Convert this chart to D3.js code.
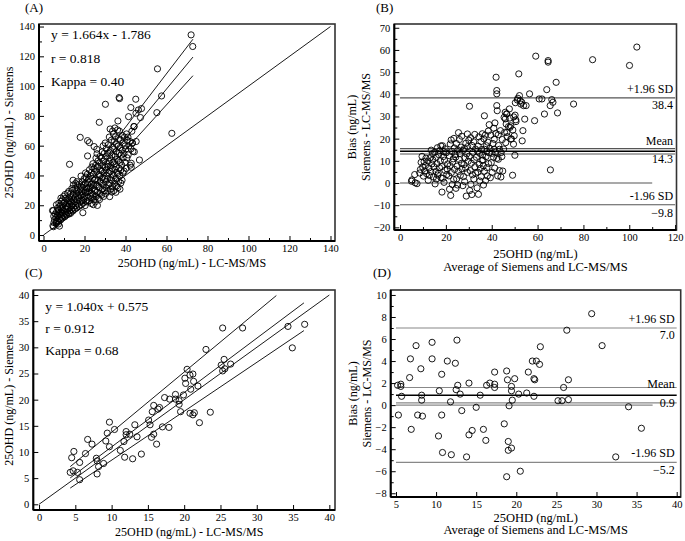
<!DOCTYPE html>
<html lang="en">
<head>
<meta charset="UTF-8" />
<script src="https://d3js.org/d3.v7.min.js"></script>
<title>25OHD Siemens vs LC-MS/MS</title>
<style>
body { margin: 0; background: #fff; }
text { font-family: "Liberation Serif", "Times New Roman", serif; fill: #000; }
</style>
</head>
<body>
<script type="text/javascript">
// ---- (A) Siemens vs LC-MS/MS, all samples: [LC-MS/MS, Siemens]
var aPoints = [
[72.0,134.4],[72.8,126.6],[55.6,111.6],[57.6,93.4],[36.9,92.3],[37.1,91.6],[45.0,91.2],[30.2,87.8],[47.8,84.9],[42.6,85.6],
[46.3,84.0],[41.5,79.5],[47.3,78.9],[45.1,81.8],[27.2,75.7],[36.3,76.6],[55.3,82.2],[44.2,72.8],[62.6,68.3],[17.9,65.6],
[46.8,50.4],[12.7,47.5],[42.8,48.2],[42.8,45.5],[43.6,56.2],[43.3,61.6],[21.5,63.4],[22.4,62.1],[24.7,59.4],[26.0,57.6],
[21.5,53.1],[19.2,15.0],[4.4,16.4],[4.9,5.6],[6.2,8.3],[7.3,7.4],[7.8,6.0],
[4.6,6.2],[5.1,8.4],[5.4,10.3],[5.0,12.6],[5.7,14.1],[4.8,16.4],
[6.2,7.6],[6.5,9.8],[6.1,11.7],[6.8,13.2],[6.4,15.5],[6.9,18.1],[6.3,20.3],
[7.3,9.1],[7.6,10.8],[7.2,12.9],[7.8,14.6],[7.4,16.8],[7.9,19.2],[7.5,21.4],
[8.4,10.2],[8.8,11.9],[8.2,13.6],[8.6,15.3],[8.9,17.4],[8.3,19.9],[8.7,22.6],[8.5,24.8],
[9.3,11.4],[9.7,13.1],[9.1,14.8],[9.6,16.6],[9.4,18.5],[9.9,21.2],[9.2,23.7],[9.8,25.9],
[10.4,12.3],[10.8,13.9],[10.2,15.6],[10.6,17.7],[10.9,19.4],[10.3,22.1],[10.7,24.6],[10.5,27.2],
[11.3,13.5],[11.7,15.2],[11.1,17.3],[11.6,19.1],[11.9,21.5],[11.4,23.8],[11.8,28.1],
[12.4,14.1],[12.8,16.3],[12.2,18.4],[12.7,20.6],[12.5,23.2],[12.9,25.7],[12.3,29.3],
[13.2,14.6],[13.6,17.2],[13.9,19.5],[13.4,22.4],[13.7,24.9],[13.3,27.8],[13.8,31.2],
[14.3,16.1],[14.7,18.3],[14.1,20.8],[14.8,23.6],[14.5,26.9],[14.2,30.1],[14.6,33.7],[14.4,36.8],
[15.3,17.4],[15.8,19.8],[15.1,22.2],[15.6,25.1],[15.9,27.9],[15.4,31.3],[15.7,34.6],
[16.2,18.2],[16.7,21.1],[16.4,23.7],[16.9,26.6],[16.1,29.8],[16.6,32.9],[16.3,35.8],
[17.3,19.3],[17.8,22.4],[17.1,25.2],[17.6,28.3],[17.9,31.1],[17.4,34.2],
[18.4,20.1],[18.8,23.3],[18.2,26.4],[18.7,29.2],[18.5,32.4],[18.9,35.7],[18.3,39.6],
[19.3,21.4],[19.7,24.2],[19.1,27.1],[19.6,30.3],[19.4,33.5],[19.8,37.8],
[20.3,19.8],[20.8,22.9],[20.2,25.8],[20.6,28.7],[20.9,31.6],[20.4,34.8],[20.7,38.9],[20.5,41.7],
[21.3,22.2],[21.7,25.3],[21.2,28.4],[21.8,31.2],[21.5,34.3],[21.9,37.4],[21.4,40.8],
[22.3,23.1],[22.7,26.2],[22.2,29.5],[22.8,32.3],[22.5,35.6],[22.9,39.7],[22.4,43.8],
[23.3,21.2],[23.7,24.8],[23.2,28.1],[23.8,31.4],[23.5,34.2],[23.9,37.9],[23.4,42.1],[23.6,45.7],
[24.3,20.4],[24.7,23.9],[24.2,27.3],[24.8,30.2],[24.5,33.4],[24.9,36.8],[24.4,40.7],[24.6,44.6],[24.1,47.9],
[25.3,22.3],[25.7,25.8],[25.2,29.6],[25.8,33.7],[25.5,37.9],[25.9,42.6],[25.4,46.8],[25.6,51.7],
[26.3,19.9],[26.7,24.7],[26.2,28.9],[26.8,32.6],[26.5,36.7],[26.9,40.8],[26.4,45.9],[26.6,49.8],[26.1,54.6],
[27.3,23.8],[27.7,27.9],[27.2,31.8],[27.8,35.9],[27.5,39.6],[27.9,43.7],[27.4,48.6],[27.6,52.8],
[28.3,26.7],[28.7,30.8],[28.2,34.7],[28.8,38.6],[28.5,42.9],[28.9,46.7],[28.4,51.6],[28.6,55.8],
[29.3,25.9],[29.7,29.8],[29.2,33.6],[29.8,37.7],[29.5,41.8],[29.9,45.6],[29.4,49.7],[29.6,54.8],[29.1,59.9],
[30.3,27.8],[30.7,31.7],[30.2,35.8],[30.8,39.9],[30.5,43.6],[30.9,47.8],[30.4,52.7],[30.6,57.9],[30.1,61.8],
[31.3,29.7],[31.7,33.8],[31.2,37.6],[31.8,41.7],[31.5,45.9],[31.9,49.6],[31.4,54.9],[31.6,60.7],
[32.3,25.8],[32.7,30.9],[32.2,34.8],[32.8,38.7],[32.5,42.8],[32.9,46.9],[32.4,51.8],[32.6,56.7],[32.1,65.8],[32.5,71.2],
[33.3,28.9],[33.7,32.8],[33.2,36.9],[33.8,40.8],[33.5,44.7],[33.9,48.9],[33.4,53.8],[33.6,58.9],[33.1,63.7],[33.7,69.8],
[34.3,29.8],[34.7,34.7],[34.2,39.8],[34.8,43.9],[34.5,47.8],[34.9,52.9],[34.4,57.8],[34.6,62.9],[34.1,67.8],[34.8,71.9],
[35.3,28.7],[35.7,32.9],[35.2,37.8],[35.8,41.9],[35.5,45.8],[35.9,50.8],[35.4,55.9],[35.6,60.8],[35.1,65.9],
[36.3,31.8],[36.7,35.9],[36.2,40.9],[36.8,44.8],[36.5,49.9],[36.9,54.8],[36.4,59.7],[36.6,64.8],[36.1,70.6],
[37.3,30.8],[37.7,34.9],[37.2,39.7],[37.8,43.8],[37.5,48.9],[37.9,53.7],[37.4,58.8],[37.6,63.9],[37.1,69.7],
[38.3,36.8],[38.7,41.8],[38.2,46.9],[38.8,51.8],[38.5,56.9],[38.9,61.8],[38.4,66.9],
[39.3,42.9],[39.7,48.8],[39.2,54.7],[39.8,59.8],[39.5,65.7],
[40.3,44.8],[40.7,51.9],[40.2,57.8],[40.8,63.7],[40.5,67.9],
[41.3,53.8],[41.7,59.9],[41.2,65.8],
[42.3,46.9],[42.7,57.9],[42.2,62.8],
[43.4,61.9],[43.1,69.7],[44.3,55.9],[44.1,72.9],[45.2,62.8]
];
var aIdentity = [[0,0],[140,140]];
var aFit   = [[5,6.5],[72.9,119.5]];
var aUpper = [[5,9.5],[72.9,131.5]];
var aLower = [[5,4.0],[72.9,107.0]];
var aText = ["y = 1.664x - 1.786", "r = 0.818", "Kappa = 0.40"];

// ---- (B) Bland-Altman, all samples: [average, bias]
var bPoints = [
[103.3,61.3],[100.1,53.0],[84.0,55.6],[75.7,35.6],[68.1,45.4],[68.7,31.6],[59.2,57.2],[64.6,54.5],[64.6,55.2],[64.0,42.1],
[60.7,37.9],[61.9,37.9],[66.2,37.6],[66.7,36.4],[63.0,31.1],[58.7,28.1],[65.5,34.9],[65.6,5.9],[56.5,40.2],[55.0,34.9],
[51.8,49.2],[52.1,39.4],[52.4,37.1],[53.1,36.4],[51.2,37.4],[53.9,34.9],[52.7,35.6],[54.4,28.8],[53.6,23.6],[53.3,19.0],
[49.8,21.3],[50.1,12.5],[49.1,3.5],[41.9,47.7],[42.2,41.7],[42.2,40.2],[42.2,34.9],[42.4,32.6],[30.3,34.6],[36.8,30.3],
[41.0,15.2],[43.4,15.2],[42.9,10.7],[44.4,11.9],[44.0,2.7],[44.8,5.4],[45.9,31.9],[46.6,31.1],[45.4,29.6],[46.6,22.8],
[48.0,25.1],[48.3,19.8],[49.5,17.5],[50.5,28.5],[50.2,30.6],
[5.2,1.4],[5.0,0.8],[6.6,0.1],[7.4,-0.3],[6.4,3.8],[8.6,4.5],[9.2,9.3],[8.9,6.1],
[10.2,3.1],[10.8,5.4],[9.9,7.2],[10.5,9.6],[11.3,11.2],[9.6,12.0],[11.6,4.2],[11.1,7.9],
[12.3,1.2],[12.8,3.4],[13.4,5.1],[12.6,6.8],[13.9,8.6],[12.2,9.9],[13.1,11.4],[14.2,13.2],[13.6,14.8],[14.6,2.7],[14.8,7.3],[14.3,10.4],
[15.3,-0.4],[15.9,1.8],[16.4,3.6],[15.6,5.2],[17.2,6.9],[16.1,8.7],[17.6,10.1],[15.8,11.6],[16.9,12.8],[17.4,14.6],[16.3,15.9],[17.8,16.7],[15.1,13.9],[16.7,4.4],[17.9,2.3],
[18.3,-4.1],[19.2,0.3],[18.7,2.1],[20.4,3.8],[19.6,5.7],[18.2,7.4],[20.8,8.6],[19.4,10.3],[18.9,11.9],[20.1,13.6],[19.7,15.4],[18.5,16.8],[20.6,6.3],[19.0,14.1],
[22.1,-5.6],[21.6,-2.8],[22.8,-0.7],[23.4,1.6],[21.3,3.2],[22.4,4.7],[23.8,6.1],[21.8,7.8],[22.9,9.4],[23.2,10.9],[21.5,12.3],[22.6,14.2],[23.7,15.8],[21.9,17.6],[22.3,19.4],[23.5,20.1],[24.0,12.8],
[24.4,-2.4],[25.1,-0.9],[24.7,1.9],[26.3,3.4],[25.5,5.2],[24.9,7.6],[26.8,8.9],[25.8,10.6],[24.3,11.7],[26.1,13.3],[25.3,14.9],[26.6,16.2],[24.6,17.8],[25.9,19.6],[25.5,22.7],[26.9,21.1],[27.0,6.4],
[27.4,-1.2],[28.9,-5.9],[28.2,0.6],[27.7,2.9],[29.4,4.8],[28.6,6.7],[27.9,8.3],[29.7,9.8],[28.4,11.4],[29.1,13.1],[27.6,14.7],[29.5,16.4],[28.7,17.9],[29.4,22.1],[30.0,19.3],[28.1,15.6],
[30.4,-3.4],[31.3,-5.2],[30.9,-0.6],[32.2,1.8],[31.6,3.7],[30.6,5.6],[32.7,7.3],[31.1,8.9],[32.4,10.4],[30.2,12.1],[31.8,13.8],[32.9,15.3],[31.4,16.9],[32.1,18.6],[30.8,20.4],[32.6,21.9],[33.0,4.4],
[34.2,-5.1],[33.6,-2.2],[34.8,0.9],[35.4,2.8],[33.9,4.9],[35.1,6.6],[34.5,8.4],[35.8,10.2],[33.3,11.6],[34.7,13.4],[35.6,15.1],[34.1,16.6],[35.3,18.7],[34.4,20.8],[35.9,22.2],[33.8,14.4],[36.0,12.6],
[36.4,-0.9],[37.3,1.1],[38.1,3.2],[36.8,5.3],[37.9,6.9],[38.6,8.8],[36.2,10.4],[37.5,11.9],[38.8,13.6],[36.9,15.2],[37.7,16.8],[38.3,18.4],[36.6,19.9],[37.2,21.6],[38.5,23.4],[38.9,26.3],[37.8,14.3],[36.3,7.8],
[39.4,2.4],[40.2,4.8],[41.3,6.7],[39.8,9.2],[40.8,11.6],[41.6,13.9],[39.2,15.6],[40.5,17.8],[41.1,19.7],[39.6,21.6],[40.9,24.7],[41.4,27.1],[40.1,13.4],[41.8,22.3],
[42.6,3.2],[43.4,5.6],[42.2,11.1],[44.1,13.7],[43.0,16.9],[44.6,19.6],[42.9,21.8],[43.8,23.6],
[45.2,15.3],[46.1,18.2],[46.8,20.9],[45.6,22.8],[47.3,25.4],[45.9,28.9],[46.5,31.2],[47.7,33.4],[46.3,26.6],
[48.6,19.9],[49.2,23.9],[48.3,25.8],[50.6,27.7],[49.6,29.8],[50.3,36.2],[51.4,38.2],[47.9,29.3]
];
var bMean = 14.3, bMeanCI = [13.1, 15.5], bSdHigh = 38.4, bSdLow = -9.8;

// ---- (C) Siemens vs LC-MS/MS, subset: [LC-MS/MS, Siemens]
var cPoints = [
[25.3,33.7],[28.05,33.7],[34.3,34.0],[36.6,34.4],[34.9,29.9],[23.0,29.6],[20.4,25.8],[20.8,24.7],[21.2,24.9],[20.1,24.1],
[21.3,23.5],[20.2,23.1],[25.1,26.6],[25.5,27.7],[25.3,25.5],[26.4,26.8],[25.6,25.9],[20.9,22.0],[21.9,22.6],[17.3,20.4],
[18.0,20.1],[18.8,21.0],[18.8,20.1],[19.9,20.9],[19.3,19.8],[19.3,19.1],[19.5,17.7],[20.8,17.4],[21.4,17.5],[21.2,17.1],
[23.6,17.6],[22.1,15.6],[15.8,18.9],[15.6,17.7],[16.4,18.2],[16.6,18.5],[15.1,16.1],[15.3,15.2],[15.5,12.8],[15.8,13.4],
[16.2,11.5],[17.0,14.8],[17.9,14.7],[13.2,15.2],[13.5,12.9],[12.5,13.4],[12.0,13.9],[11.7,12.0],[12.0,13.3],[11.2,10.3],
[11.8,9.0],[12.9,8.7],[14.1,9.6],[10.4,14.3],[9.7,15.7],[9.4,13.6],[9.2,12.1],[9.7,11.0],[6.7,12.4],[7.3,11.5],
[6.4,9.7],[4.8,10.1],[4.5,8.9],[5.6,8.0],[4.3,6.1],[4.7,6.4],[5.3,6.1],[5.6,4.7],[7.9,8.8],[8.0,8.3],
[8.2,7.2],[8.9,7.8],[8.0,5.8]
];
var cIdentity = [[0,0],[40,40]];
var cFit   = [[4.3,5.05],[36.5,38.5]];
var cUpper = [[4.3,7.2],[32.7,39.9]];
var cLower = [[4.3,3.1],[36.5,33.2]];
var cText = ["y = 1.040x + 0.575", "r = 0.912", "Kappa = 0.68"];

// ---- (D) Bland-Altman, subset: [average, bias]
var dPoints = [
[29.4,8.3],[26.3,6.8],[30.7,5.4],[23.0,5.3],[22.0,4.0],[22.5,4.0],[22.9,3.7],[21.5,3.0],[22.2,2.4],[22.3,2.3],
[26.5,2.3],[25.9,1.6],[21.3,1.1],[20.3,1.0],[22.2,0.8],[25.2,0.4],[25.7,0.4],[26.5,0.5],[19.8,2.4],[18.8,3.1],
[18.9,2.3],[19.4,1.7],[19.4,1.3],[19.5,0.45],[19.1,-0.06],[18.5,-1.7],[19.0,-3.3],[19.0,-4.1],[19.4,-3.9],[18.8,-6.5],
[20.5,-6.0],[17.3,3.0],[16.3,1.8],[16.7,2.0],[17.3,1.9],[17.3,1.6],[15.5,0.9],[15.0,-0.2],[15.9,-2.2],[16.2,-3.2],
[14.5,-2.3],[14.1,-2.7],[13.8,-4.7],[14.1,2.0],[13.2,-0.5],[13.0,1.0],[12.7,1.8],[12.5,1.4],[12.6,5.9],[12.4,3.8],
[11.4,4.0],[11.8,0.3],[11.9,-4.5],[10.7,2.8],[10.4,1.3],[10.7,-0.9],[10.3,-2.8],[10.8,-4.3],[9.5,5.7],[9.5,4.2],
[7.5,5.4],[6.8,4.2],[6.7,2.5],[6.9,-2.2],[7.7,-0.9],[8.3,-1.0],[8.1,3.3],[8.2,0.9],[8.2,0.45],[5.6,1.9],
[5.3,-0.9],[5.6,1.7],[5.7,0.8],[34.0,-0.15],[35.6,-2.1],[32.4,-4.7],[5.2,1.8]
];
var dMean = 0.9, dMeanCI = [0.2, 1.6], dSdHigh = 7.0, dSdLow = -5.2;

var xTitleScatter = "25OHD (ng/mL) - LC-MS/MS";
var yTitleScatter = "25OHD (ng/mL) - Siemens";
var xTitleBA = ["25OHD (ng/mL)", "Average of Siemens and LC-MS/MS"];
var yTitleBA = ["Bias (ng/mL)", "Siemens - LC-MS/MS"];

var svg = d3.select("body").append("svg").attr("width", 685).attr("height", 541);

function frame(p) {
  var x = d3.scaleLinear().domain(p.xDom).range([p.left, p.right]);
  var y = d3.scaleLinear().domain(p.yDom).range([p.bottom, p.top]);
  var g = svg.append("g");
  g.append("rect").attr("x", p.left).attr("y", p.top)
    .attr("width", p.right - p.left).attr("height", p.bottom - p.top)
    .attr("fill", "none").attr("stroke", "#333").attr("stroke-width", 1.6);

  // minor ticks
  if (p.xMinor) g.append("g").attr("transform", "translate(0," + p.bottom + ")")
      .call(d3.axisBottom(x).tickValues(p.xMinor).tickSize(-3).tickFormat(""));
  if (p.yMinor) g.append("g").attr("transform", "translate(" + p.left + ",0)")
      .call(d3.axisLeft(y).tickValues(p.yMinor).tickSize(-3).tickFormat(""));
  g.append("g").attr("transform", "translate(0," + p.bottom + ")")
      .call(d3.axisBottom(x).tickValues(p.xTicks).tickSizeInner(-5).tickSizeOuter(0).tickPadding(4));
  g.append("g").attr("transform", "translate(" + p.left + ",0)")
      .call(d3.axisLeft(y).tickValues(p.yTicks).tickSizeInner(-5).tickSizeOuter(0).tickPadding(4));
  g.selectAll(".domain").remove();
  g.selectAll(".tick line").attr("stroke", "#000").attr("stroke-width", 1);
  g.selectAll(".tick text").attr("font-family", "Liberation Serif, Times New Roman, serif")
    .attr("font-size", 10.5);

  // heavy left and bottom axis lines
  g.append("line").attr("x1", p.left).attr("x2", p.right).attr("y1", p.bottom).attr("y2", p.bottom)
    .attr("stroke", "#000").attr("stroke-width", 2);
  g.append("line").attr("x1", p.left).attr("x2", p.left).attr("y1", p.top).attr("y2", p.bottom)
    .attr("stroke", "#000").attr("stroke-width", 2);

  svg.append("text").attr("x", p.labelX).attr("y", p.labelY).attr("font-size", 13).text(p.label);
  return {x: x, y: y, g: g};
}

function dots(f, pts) {
  f.g.append("g").selectAll("circle").data(pts).enter().append("circle")
    .attr("cx", function(d){ return f.x(d[0]); })
    .attr("cy", function(d){ return f.y(d[1]); })
    .attr("r", 3.1).attr("fill", "none").attr("stroke", "#000").attr("stroke-width", 0.9);
}

function scatterPanel(p, pts, lines, txt) {
  var f = frame(p);
  var line = d3.line().x(function(d){ return f.x(d[0]); }).y(function(d){ return f.y(d[1]); });
  lines.forEach(function(l) {
    f.g.append("path").attr("d", line(l)).attr("fill", "none").attr("stroke", "#000").attr("stroke-width", 0.9);
  });
  dots(f, pts);
  txt.forEach(function(t, i) {
    svg.append("text").attr("x", p.left + 12).attr("y", p.top + p.txtTop + i * p.txtGap)
      .attr("font-size", 13.5).text(t);
  });
  svg.append("text").attr("x", (p.left + p.right) / 2 + 5).attr("y", p.bottom + p.xTitleOff)
    .attr("text-anchor", "middle").attr("font-size", 12).text(xTitleScatter);
  svg.append("text").attr("transform", "translate(13," + ((p.top + p.bottom) / 2) + ") rotate(-90)")
    .attr("text-anchor", "middle").attr("font-size", 12).text(yTitleScatter);
}

function baPanel(p, pts, mean, ci, sdHi, sdLo, zeroEnd, grey) {
  var f = frame(p);
  var x0 = p.lineFrom, x1 = p.lineTo;
  function hline(v, end, col, w) {
    f.g.append("line").attr("x1", f.x(x0)).attr("x2", f.x(end))
      .attr("y1", f.y(v)).attr("y2", f.y(v)).attr("stroke", col).attr("stroke-width", w);
  }
  hline(sdHi, x1, grey, 1.1);
  hline(ci[0], x1, grey, 1.1);
  hline(ci[1], x1, grey, 1.1);
  hline(mean, x1, "#000", 1.6);
  hline(0, zeroEnd, grey, 1.1);
  hline(sdLo, x1, grey, 1.1);
  dots(f, pts);

  var fmt = d3.format(".1f"), rx = f.x(x1) - 2;
  function lab(t, yy) {
    svg.append("text").attr("x", rx).attr("y", yy).attr("text-anchor", "end").attr("font-size", 12).text(t);
  }
  lab("+1.96 SD", f.y(sdHi) - 5);
  lab(fmt(sdHi), f.y(sdHi) + 11);
  lab("Mean", f.y(ci[1]) + p.meanOff);
  lab(fmt(mean), f.y(mean) + 12);
  lab("-1.96 SD", f.y(sdLo) - 5);
  lab(fmt(sdLo), f.y(sdLo) + 12);

  var cx = (p.left + p.right) / 2;
  xTitleBA.forEach(function(t, i) {
    svg.append("text").attr("x", cx).attr("y", p.bottom + p.xTitleOff + i * p.xTitleGap)
      .attr("text-anchor", "middle").attr("font-size", 12.5).text(t);
  });
  var cy = (p.top + p.bottom) / 2;
  yTitleBA.forEach(function(t, i) {
    svg.append("text").attr("transform", "translate(" + (p.left - p.yTitleOff + i * 14) + "," + cy + ") rotate(-90)")
      .attr("text-anchor", "middle").attr("font-size", 12).text(t);
  });
}

scatterPanel({left: 39, right: 335, top: 24, bottom: 241, xDom: [-2.2, 142.2], yDom: [-4, 141.7],
  xTicks: d3.range(0, 141, 20), xMinor: d3.range(10, 141, 20),
  yTicks: d3.range(0, 141, 20), yMinor: d3.range(10, 141, 20),
  txtTop: 15, txtGap: 23.5, xTitleOff: 26,
  label: "(A)", labelX: 25, labelY: 12},
  aPoints, [aIdentity, aFit, aUpper, aLower], aText);

baPanel({left: 394.3, right: 676.5, top: 24, bottom: 230, xDom: [-2.5, 120.6], yDom: [-21.2, 71.7],
  xTicks: d3.range(0, 121, 20), xMinor: d3.range(10, 121, 20),
  yTicks: d3.range(-20, 71, 10), yMinor: d3.range(-15, 71, 10),
  lineFrom: 0, lineTo: 120, meanOff: -4, xTitleOff: 28, xTitleGap: 12.5, yTitleOff: 38,
  label: "(B)", labelX: 376, labelY: 12},
  bPoints, bMean, bMeanCI, bSdHigh, bSdLow, 110, "#555");

scatterPanel({left: 33.3, right: 335, top: 290, bottom: 510, xDom: [-0.79, 40.78], yDom: [-1.09, 40.96],
  xTicks: d3.range(0, 41, 5), yTicks: d3.range(0, 41, 5),
  txtTop: 21, txtGap: 22, xTitleOff: 26,
  label: "(C)", labelX: 25, labelY: 277},
  cPoints, [cIdentity, cFit, cUpper, cLower], cText);

baPanel({left: 390.7, right: 680.7, top: 290, bottom: 497, xDom: [4.34, 40.5], yDom: [-8.34, 10.45],
  xTicks: d3.range(5, 41, 5), yTicks: d3.range(-8, 11, 2), yMinor: d3.range(-7, 11, 2),
  lineFrom: 5, lineTo: 40, meanOff: 1, xTitleOff: 24.5, xTitleGap: 12.7, yTitleOff: 34,
  label: "(D)", labelX: 373, labelY: 277},
  dPoints, dMean, dMeanCI, dSdHigh, dSdLow, 37, "#888");
</script>
</body>
</html>
